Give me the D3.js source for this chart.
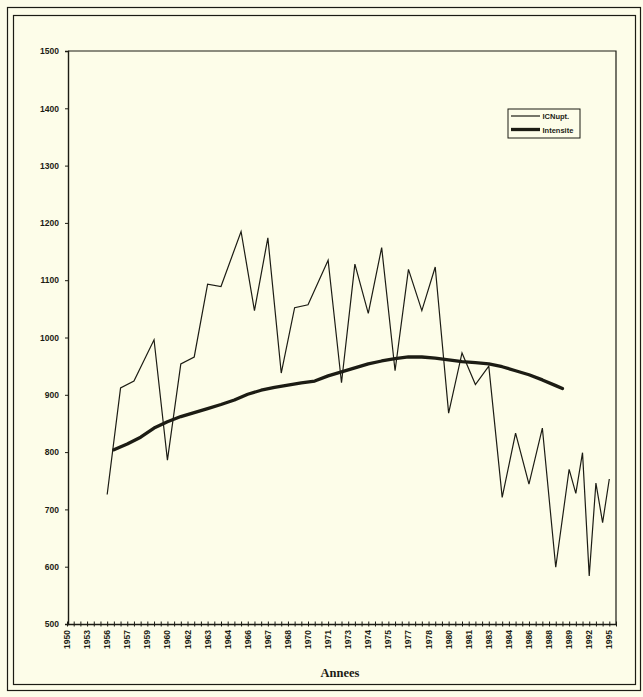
<!DOCTYPE html>
<html>
<head>
<meta charset="utf-8">
<script src="https://cdn.jsdelivr.net/npm/d3@7"></script>
<style>
  html, body { margin: 0; padding: 0; background: #fdfde9; }
  svg { display: block; }
</style>
</head>
<body>
<svg id="chart" width="643" height="697"></svg>
<script>
// ---- Data ----
// x-axis tick labels, one every third tick position
const tickLabels = ["1950","1953","1956","1957","1959","1960","1962","1963","1964","1966",
  "1967","1968","1970","1971","1973","1974","1975","1977","1978","1980",
  "1981","1983","1984","1986","1988","1989","1992","1995"];
const yTicks = [500,600,700,800,900,1000,1100,1200,1300,1400,1500];

// ICNupt. series : category position on the axis, value
const icnPos = [6,8,10,13,15,17,19,21,23,26,28,30,32,34,36,39,41,43,45,47,49,51,53,55,57,59,61,63,65,67,69,71,73,75,76,77,78,79,80,81];
const icnVal = [726,912,924,996,786,954,966,1093,1089,1185,1047,1174,938,1052,1057,1135,921,1128,1042,1157,942,1119,1047,1123,868,973,918,950,721,833,744,842,599,770,728,799,584,746,677,753];

// Intensite series
const intPos = [7,9,11,13,15,17,19,21,23,25,27,29,31,33,35,37,39,41,43,45,47,49,51,53,55,57,59,61,63,65,67,69,71,73,74];
const intVal = [804,814,826,842,853,862,869,876,883,891,901,908,913,917,921,924,933,940,947,954,959,963,966,966,964,961,958,956,954,949,942,935,926,916,911];

const seriesNames = ["ICNupt.", "Intensite"];
const xTitle = "Annees";

// ---- Drawing ----
(function () {
const svg = d3.select("#chart");
const ink = "#1c1c14";

// outer double frame
svg.append("rect").attr("x", 7.5).attr("y", 7.5).attr("width", 633).attr("height", 683)
  .attr("fill", "none").attr("stroke", ink).attr("stroke-width", 1.2);
svg.append("rect").attr("x", 13.5).attr("y", 15.5).attr("width", 622).attr("height", 669)
  .attr("fill", "none").attr("stroke", ink).attr("stroke-width", 1.2);

const mLeft = 68, mRight = 616, mTop = 51, mBottom = 624;
const nTicks = 82;
const x = d3.scaleLinear().domain([0, nTicks]).range([mLeft - 1, mRight]);
const y = d3.scaleLinear().domain([500, 1500]).range([mBottom, mTop]);

// plot box (top & right)
svg.append("path")
  .attr("d", `M${mLeft},${mTop}H${mRight}V${mBottom}`)
  .attr("fill", "none").attr("stroke", ink).attr("stroke-width", 1.2);

// y axis
const yAxis = d3.axisLeft(y).tickValues(yTicks).tickSize(3).tickFormat(d3.format("d"));
const gy = svg.append("g").attr("transform", `translate(${mLeft},0)`).call(yAxis);
gy.select(".domain").attr("stroke", ink).attr("stroke-width", 1.4);
gy.selectAll(".tick line").attr("stroke", ink);
gy.selectAll(".tick text")
  .attr("font-family", "Liberation Sans, Arial, sans-serif")
  .attr("font-weight", "bold").attr("font-size", 8.5).attr("fill", ink)
  .attr("x", -9);

// x axis: minor tick at every position, labels every third
const allTicks = d3.range(0, nTicks + 1);
const xAxis = d3.axisBottom(x).tickValues(allTicks).tickSize(0).tickFormat("");
const gx = svg.append("g").attr("transform", `translate(0,${mBottom})`).call(xAxis);
gx.select(".domain").attr("stroke", ink).attr("stroke-width", 1.6);
gx.selectAll(".tick line").attr("y1", -2.5).attr("y2", 2.5).attr("stroke", ink).attr("stroke-width", 1);

const lab = svg.append("g");
lab.selectAll("text").data(tickLabels).join("text")
  .attr("transform", (d, i) => `translate(${x(i * 3) + 3},${mBottom + 6}) rotate(-90)`)
  .attr("text-anchor", "end")
  .attr("font-family", "Liberation Sans, Arial, sans-serif")
  .attr("font-weight", "bold").attr("font-size", 8.5).attr("fill", ink)
  .text(d => d);

// axis title
svg.append("text").attr("x", 340).attr("y", 677).attr("text-anchor", "middle")
  .attr("font-family", "Liberation Serif, Times New Roman, serif")
  .attr("font-weight", "bold").attr("font-size", 12.5).attr("fill", ink)
  .text(xTitle);

// lines
const line = d3.line().x(d => x(d[0])).y(d => y(d[1]));
const icnData = d3.zip(icnPos, icnVal);
const intData = d3.zip(intPos, intVal);

svg.append("path").datum(icnData).attr("d", line)
  .attr("fill", "none").attr("stroke", ink).attr("stroke-width", 1.2)
  .attr("stroke-linejoin", "miter");
svg.append("path").datum(intData).attr("d", line)
  .attr("fill", "none").attr("stroke", ink).attr("stroke-width", 3.3)
  .attr("stroke-linejoin", "round").attr("stroke-linecap", "round");

// legend
const lg = svg.append("g").attr("transform", "translate(508,109)");
lg.append("rect").attr("x", 0).attr("y", 0).attr("width", 72).attr("height", 29)
  .attr("fill", "none").attr("stroke", ink).attr("stroke-width", 1);
const widths = [1.2, 3.3];
seriesNames.forEach((name, i) => {
  const yy = 7 + i * 13.5;
  lg.append("line").attr("x1", 3).attr("x2", 32).attr("y1", yy).attr("y2", yy)
    .attr("stroke", ink).attr("stroke-width", widths[i]);
  lg.append("text").attr("x", 34.5).attr("y", yy + 3)
    .attr("font-family", "Liberation Sans, Arial, sans-serif")
    .attr("font-weight", "bold").attr("font-size", 7.5).attr("fill", ink)
    .text(name);
});
})();
</script>
</body>
</html>
